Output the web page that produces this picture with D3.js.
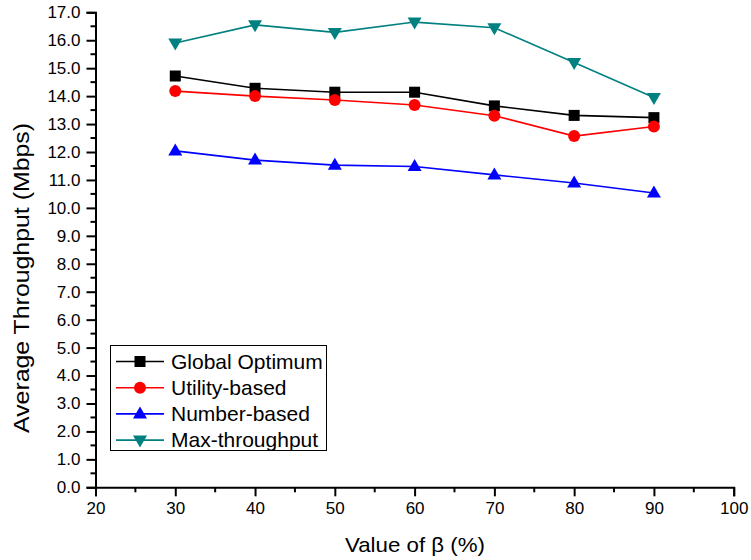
<!DOCTYPE html>
<html>
<head>
<meta charset="utf-8">
<script src="https://cdn.jsdelivr.net/npm/d3@7"></script>
<style>
  html, body { margin: 0; padding: 0; background: #fff; }
  svg { display: block; font-family: "Liberation Sans", Arial, sans-serif; }
</style>
</head>
<body>
<svg id="chart" width="751" height="560"></svg>
<script>
// Throughput vs. beta for the four allocation schemes
const betaValues = [30, 40, 50, 60, 70, 80, 90];
const globalOptimum = [14.72, 14.28, 14.14, 14.14, 13.65, 13.31, 13.23];
const utilityBased  = [14.18, 14.00, 13.86, 13.68, 13.30, 12.57, 12.91];
const numberBased   = [12.04, 11.71, 11.53, 11.48, 11.18, 10.89, 10.53];
const maxThroughput = [15.90, 16.55, 16.28, 16.65, 16.45, 15.20, 13.95];
const seriesNames = ["Global Optimum", "Utility-based", "Number-based", "Max-throughput"];
const xTickValues = [20, 30, 40, 50, 60, 70, 80, 90, 100];
const yTickValues = d3.range(0, 17.01, 1);

const series = [
  { name: seriesNames[0], values: globalOptimum, color: "#000000", symbol: "square" },
  { name: seriesNames[1], values: utilityBased,  color: "#ff0000", symbol: "circle" },
  { name: seriesNames[2], values: numberBased,   color: "#0000ff", symbol: "up" },
  { name: seriesNames[3], values: maxThroughput, color: "#008080", symbol: "down" }
];

const svg = d3.select("#chart");
const x = d3.scaleLinear().domain([20, 100]).range([95.5, 733.7]);
const y = d3.scaleLinear().domain([0, 17]).range([487.3, 12.3]);

// Axes: major ticks with labels, minor ticks in between
const xAxis = d3.axisBottom(x).tickValues(xTickValues).tickFormat(d3.format("d")).tickSizeOuter(0).tickSize(9).tickPadding(6);
const yAxis = d3.axisLeft(y).tickValues(yTickValues).tickFormat(d3.format(".1f")).tickSizeOuter(0).tickSize(9).tickPadding(6);

const gx = svg.append("g").attr("transform", `translate(0,${y(0)})`).call(xAxis);
gx.append("g").selectAll("line").data(d3.range(25, 100, 10)).join("line")
  .attr("x1", d => x(d)).attr("x2", d => x(d)).attr("y1", 0).attr("y2", 5)
  .attr("stroke", "#000").attr("stroke-width", 2);

const gy = svg.append("g").attr("transform", `translate(${x(20)},0)`).call(yAxis);
gy.append("g").selectAll("line").data(d3.range(0.5, 17, 1)).join("line")
  .attr("y1", d => y(d)).attr("y2", d => y(d)).attr("x1", 0).attr("x2", -5)
  .attr("stroke", "#000").attr("stroke-width", 2);

[gx, gy].forEach(g => {
  g.select(".domain").attr("stroke", "#000").attr("stroke-width", 2);
  g.selectAll(".tick line").attr("stroke", "#000").attr("stroke-width", 2);
  g.selectAll(".tick text").attr("fill", "#000").style("font-size", "17px")
    .style("font-family", "'Liberation Sans', Arial, sans-serif");
});

// Axis titles
svg.append("text")
  .attr("x", 415).attr("y", 552)
  .attr("text-anchor", "middle").style("font-size", "21px").attr("fill", "#000")
  .attr("textLength", 140).attr("lengthAdjust", "spacingAndGlyphs")
  .text("Value of β (%)");
svg.append("text")
  .attr("transform", "translate(28.5,278) rotate(-90)")
  .attr("text-anchor", "middle").style("font-size", "22px").attr("fill", "#000")
  .attr("textLength", 310).attr("lengthAdjust", "spacingAndGlyphs")
  .text("Average Throughput (Mbps)");

// Marker shapes
function drawMarker(g, symbol, color, cx, cy) {
  if (symbol === "square") {
    g.append("rect").attr("x", cx - 5.5).attr("y", cy - 5.5).attr("width", 11).attr("height", 11).attr("fill", color);
  } else if (symbol === "circle") {
    g.append("circle").attr("cx", cx).attr("cy", cy).attr("r", 6).attr("fill", color);
  } else if (symbol === "up") {
    g.append("path").attr("d", `M${cx},${cy - 7.5}L${cx + 7},${cy + 4.5}L${cx - 7},${cy + 4.5}Z`).attr("fill", color);
  } else {
    g.append("path").attr("d", `M${cx},${cy + 7.5}L${cx + 7},${cy - 4.5}L${cx - 7},${cy - 4.5}Z`).attr("fill", color);
  }
}

const line = d3.line().x((d, i) => x(betaValues[i])).y(d => y(d));
series.forEach(s => {
  const g = svg.append("g");
  g.append("path").attr("d", line(s.values)).attr("fill", "none")
    .attr("stroke", s.color).attr("stroke-width", 1.6);
  s.values.forEach((v, i) => drawMarker(g, s.symbol, s.color, x(betaValues[i]), y(v)));
});

// Legend
const legend = svg.append("g");
legend.append("rect").attr("x", 110.5).attr("y", 345.5).attr("width", 216).attr("height", 105)
  .attr("fill", "#fff").attr("stroke", "#000").attr("stroke-width", 1);
series.forEach((s, i) => {
  const ly = 361.5 + i * 26.2;
  legend.append("line").attr("x1", 116).attr("x2", 164).attr("y1", ly).attr("y2", ly)
    .attr("stroke", s.color).attr("stroke-width", 1.6);
  drawMarker(legend, s.symbol, s.color, 140, ly);
  legend.append("text").attr("x", 171).attr("y", ly + 7)
    .style("font-size", "21px").attr("fill", "#000").text(s.name);
});
</script>
</body>
</html>
